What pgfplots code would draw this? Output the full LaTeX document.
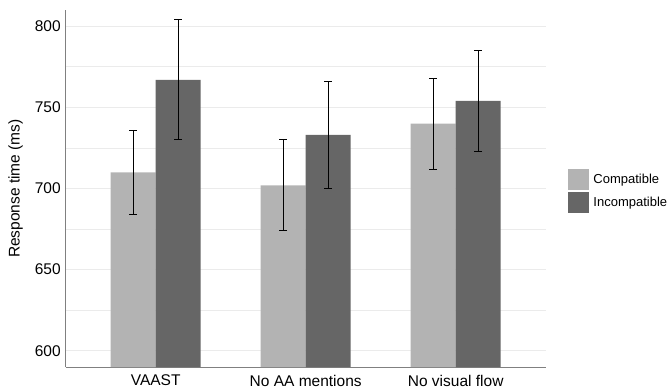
\documentclass[border=0pt]{standalone}
\usepackage{pgfplots}
\pgfplotsset{compat=1.18}
\usepackage{fontspec}
\setmainfont{Liberation Sans}
\definecolor{compc}{HTML}{B3B3B3}
\definecolor{incc}{HTML}{666666}
\definecolor{gridc}{HTML}{EBEBEB}
\definecolor{axc}{HTML}{808080}
\begin{document}
\begin{tikzpicture}[x=1pt,y=1pt]
\useasboundingbox (-65.7,-24) rectangle (601.3,367);
\begin{axis}[
  at={(0,0)}, anchor=south west,
  scale only axis, width=480pt, height=357pt,
  xmin=-0.6, xmax=2.6, ymin=590, ymax=810,
  xtick={0,1,2}, xticklabels={VAAST,No AA mentions,No visual flow},
  ytick={600,650,700,750,800},
  minor ytick={625,675,725,775},
  ymajorgrids, yminorgrids,
  major grid style={gridc, line width=0.8pt},
  minor grid style={gridc, line width=0.8pt},
  axis x line*=bottom, axis y line*=left,
  axis line style={axc, line width=0.8pt, -},
  tick style={draw=none},
  /pgf/number format/assume math mode=true,
  ticklabel style={font=\fontsize{15.5}{18}\selectfont},
  ylabel={Response time (ms)},
  ylabel style={font=\fontsize{15.5}{18}\selectfont, yshift=5pt},
  yticklabel style={xshift=-1.5pt},
  xticklabel style={yshift=0pt},
  ybar, bar width=45pt,
  legend style={at={(1.047,0.4925)}, anchor=west, draw=none, fill=none,
    font=\fontsize{13}{15}\selectfont, row sep=2pt, inner sep=0pt,
    legend cell align=left,
    /tikz/every odd column/.append style={column sep=2pt}},
  legend image code/.code={\fill[#1,draw=none] (0pt,-10.5pt) rectangle (21pt,10.5pt);},
  clip=false,
]
\addplot[fill=compc, draw=none, bar shift=-22.5pt,
  error bars/.cd, y dir=both, y explicit,
  error bar style={black, line width=0.9pt},
  error mark options={black, rotate=90, mark size=4pt, line width=0.9pt}]
  coordinates {(0,710) +- (0,26) (1,702) +- (0,28) (2,740) +- (0,28)};
\addplot[fill=incc, draw=none, bar shift=22.5pt,
  error bars/.cd, y dir=both, y explicit,
  error bar style={black, line width=0.9pt},
  error mark options={black, rotate=90, mark size=4pt, line width=0.9pt}]
  coordinates {(0,767) +- (0,37) (1,733) +- (0,33) (2,754) +- (0,31)};
\legend{Compatible,Incompatible}
\end{axis}
\end{tikzpicture}
\end{document}
